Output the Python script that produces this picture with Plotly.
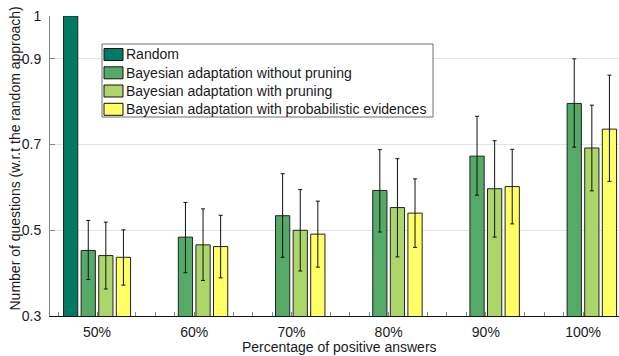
import plotly.graph_objects as go

# Percentage of positive answers
categories = ["50%", "60%", "70%", "80%", "90%", "100%"]

series_names = [
    "Random",
    "Bayesian adaptation without pruning",
    "Bayesian adaptation with pruning",
    "Bayesian adaptation with probabilistic evidences",
]
series_colors = ["#007a62", "#54aa66", "#acd66a", "#ffff66"]

# Normalised number of questions (w.r.t. the random approach)
random_vals = [1.0, None, None, None, None, None]

no_pruning = [0.453, 0.484, 0.534, 0.593, 0.673, 0.796]
no_pruning_hi = [0.523, 0.565, 0.632, 0.688, 0.766, 0.900]
no_pruning_lo = [0.385, 0.401, 0.437, 0.496, 0.582, 0.694]

pruning = [0.441, 0.466, 0.500, 0.553, 0.597, 0.692]
pruning_hi = [0.519, 0.550, 0.595, 0.667, 0.709, 0.792]
pruning_lo = [0.363, 0.383, 0.405, 0.438, 0.484, 0.592]

prob_evid = [0.437, 0.462, 0.491, 0.540, 0.602, 0.736]
prob_evid_hi = [0.501, 0.535, 0.568, 0.620, 0.689, 0.862]
prob_evid_lo = [0.372, 0.389, 0.414, 0.460, 0.515, 0.614]

y_ticks = [0.3, 0.5, 0.7, 0.9, 1.0]
y_tick_text = ["0.3", "0.5", "0.7", "0.9", "1"]

x_title = "Percentage of positive answers"
y_title = "Number of questions (w.r.t the random approach)"

FONT = "Liberation Sans, Arial, Helvetica, sans-serif"
TEXT = "#1a1a1a"
FS = 14

W, H = 619, 356
ML, MR, MT, MB = 50, 0, 16, 40

x = list(range(len(categories)))

fig = go.Figure()


def err(vals, hi, lo):
    return dict(
        type="data",
        symmetric=False,
        array=[h - v for h, v in zip(hi, vals)],
        arrayminus=[v - l for v, l in zip(vals, lo)],
        color="#111111",
        thickness=1,
        width=2,
    )


fig.add_trace(go.Bar(x=x, y=random_vals, name=series_names[0],
                     marker=dict(color=series_colors[0], line=dict(color="#222", width=1))))

for name, color, vals, hi, lo in [
    (series_names[1], series_colors[1], no_pruning, no_pruning_hi, no_pruning_lo),
    (series_names[2], series_colors[2], pruning, pruning_hi, pruning_lo),
    (series_names[3], series_colors[3], prob_evid, prob_evid_hi, prob_evid_lo),
]:
    fig.add_trace(go.Bar(
        x=x, y=vals, name=name,
        marker=dict(color=color, line=dict(color="#222", width=1)),
        error_y=err(vals, hi, lo),
    ))

# Pixel -> paper coordinate helpers for the legend box and titles
pw, ph = W - ML - MR, H - MT - MB


def px_x(p):
    return (p - ML) / pw


def px_y(p):
    return (H - MB - p) / ph


shapes = [dict(type="rect", xref="paper", yref="paper",
               x0=px_x(102), x1=px_x(433), y0=px_y(117), y1=px_y(44),
               line=dict(color="#6e6e6e", width=1), fillcolor="white", layer="above")]
annotations = []
row_y = [54.5, 72.8, 91.0, 109.3]
for name, color, ry in zip(series_names, series_colors, row_y):
    shapes.append(dict(type="rect", xref="paper", yref="paper",
                       x0=px_x(104), x1=px_x(123), y0=px_y(ry + 6), y1=px_y(ry - 6),
                       line=dict(color="#111", width=1), fillcolor=color, layer="above"))
    annotations.append(dict(xref="paper", yref="paper", x=px_x(124), y=px_y(ry),
                            text=name, showarrow=False, xanchor="left", yanchor="middle",
                            font=dict(family=FONT, size=FS, color=TEXT)))

# Axis titles
annotations.append(dict(xref="paper", yref="paper", x=0, xshift=-(ML - 24), y=px_y(158.5),
                        text=y_title, textangle=-90, showarrow=False,
                        xanchor="right", yanchor="middle",
                        font=dict(family=FONT, size=FS, color=TEXT)))
annotations.append(dict(xref="paper", yref="paper", x=px_x(339), y=px_y(346.5),
                        text=x_title, showarrow=False,
                        xanchor="center", yanchor="middle",
                        font=dict(family=FONT, size=FS, color=TEXT)))

fig.update_layout(
    width=W, height=H,
    margin=dict(l=ML, r=MR, t=MT, b=MB, pad=0),
    paper_bgcolor="white", plot_bgcolor="white",
    barmode="group", bargap=0.276, bargroupgap=0.19,
    showlegend=False,
    font=dict(family=FONT, size=FS, color=TEXT),
    shapes=shapes, annotations=annotations,
)

fig.update_xaxes(
    range=[-0.484, 5.37],
    tickmode="array", tickvals=x, ticktext=categories,
    ticks="inside", ticklen=4, tickcolor="#888",
    minor=dict(ticks="inside", dtick=0.2, tick0=0, ticklen=4, tickcolor="#888"),
    showline=True, linecolor="#111", linewidth=1,
    showgrid=False, zeroline=False, layer="below traces",
    tickfont=dict(size=FS), ticklabelstandoff=3,
)

fig.update_yaxes(
    range=[0.3, 1.0],
    tickmode="array", tickvals=y_ticks, ticktext=y_tick_text,
    ticks="inside", ticklen=5, tickcolor="#888",
    showline=True, linecolor="#888", linewidth=1,
    showgrid=True, gridcolor="#e4e4e4", gridwidth=1, zeroline=False,
    tickfont=dict(size=FS), ticklabelstandoff=5,
)

fig.write_html("out.html")
